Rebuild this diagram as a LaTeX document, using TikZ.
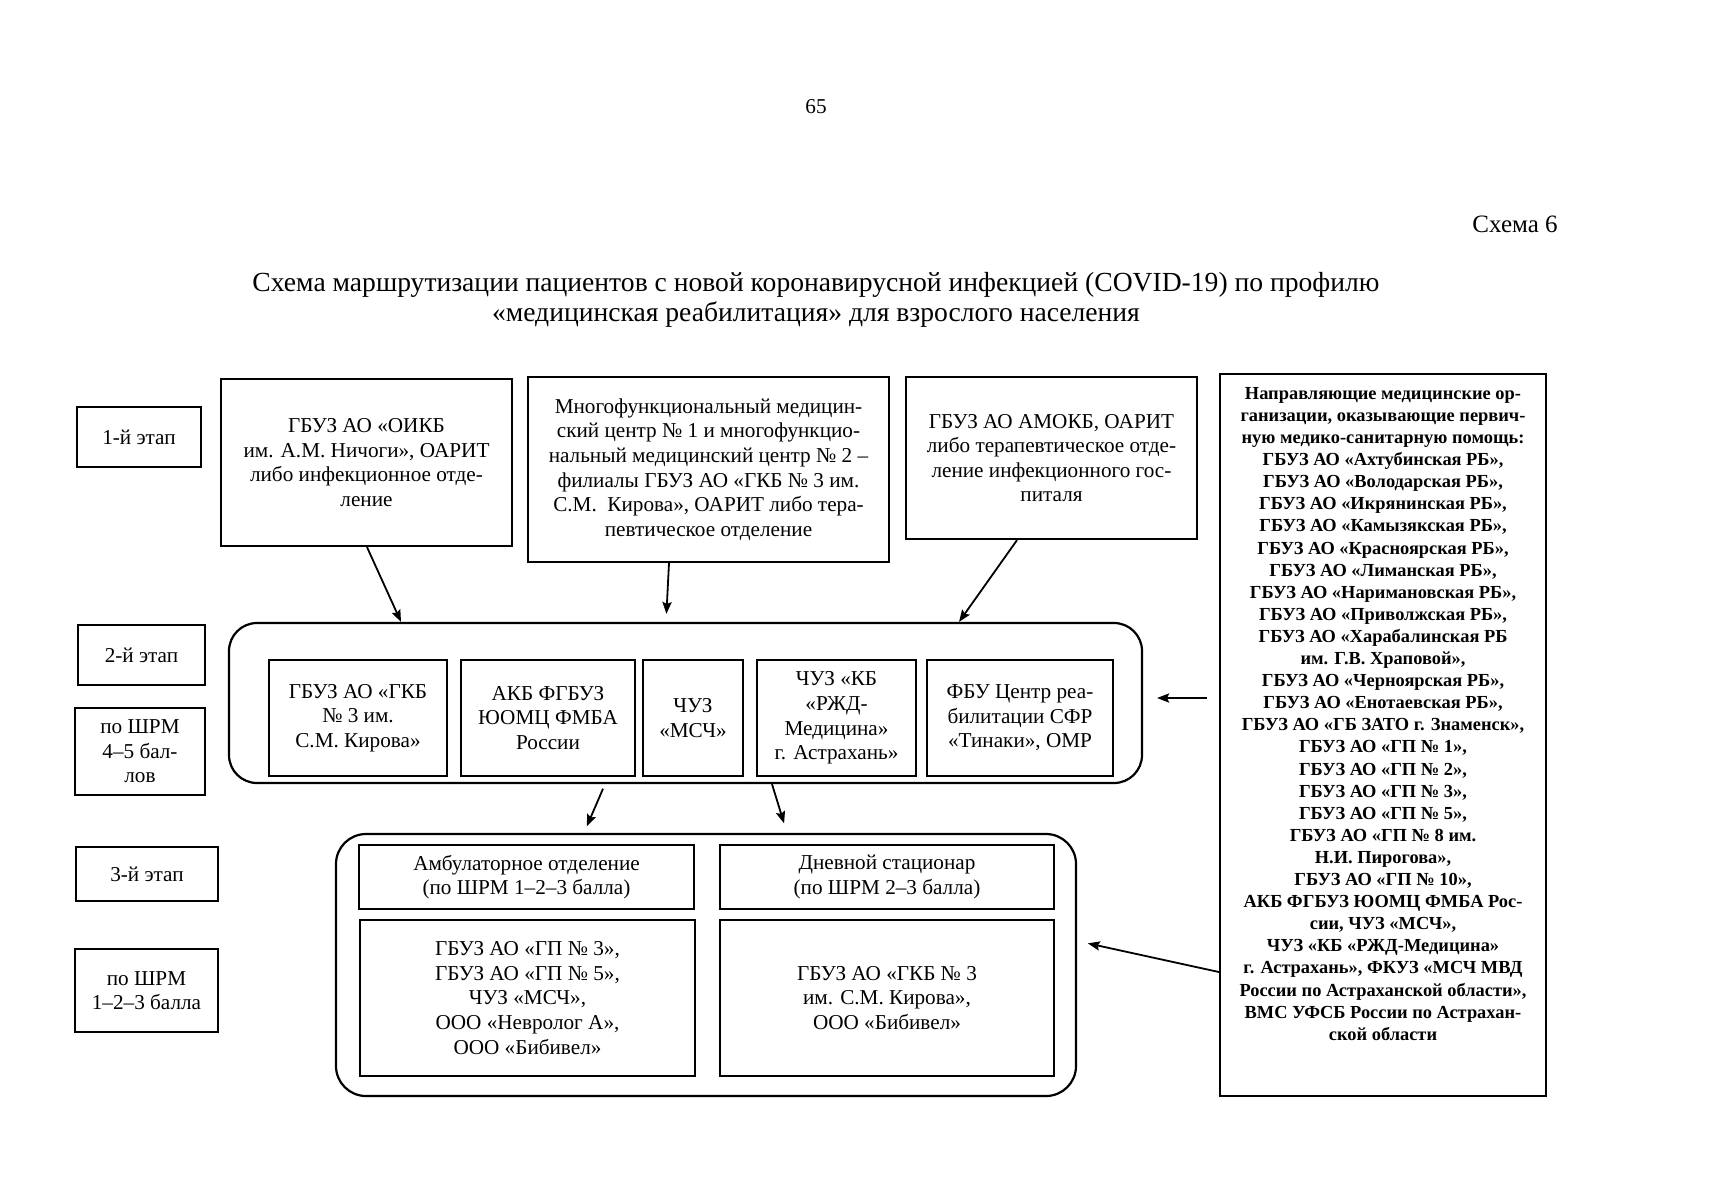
\documentclass[tikz,border=0pt]{standalone}
\usepackage{fontspec}
\setmainfont{Liberation Serif}
\usetikzlibrary{arrows.meta}
\begin{document}
\begin{tikzpicture}[x=0.5pt,y=-0.5pt,>={Stealth[length=6pt,width=4.6pt,inset=1pt]},
  every node/.style={font=\fontsize{10.6}{12.3}\selectfont,align=center,inner sep=0pt},
  sz/.style 2 args={minimum width=#1*0.5pt,minimum height=#2*0.5pt},
  box/.style={draw,line width=1.1pt},
  arr/.style={->,line width=0.9pt}]
\useasboundingbox (0,0) rectangle (1722,1200);
\node (pnum) at (816,107) {65};
\node[font=\fontsize{12.5}{14}\selectfont] (schema) at (1515,224) {Схема 6};
\node[font=\fontsize{13.8}{15}\selectfont] (title) at (816,300) {Схема маршрутизации пациентов с новой коронавирусной инфекцией (COVID-19) по профилю\\«медицинская реабилитация» для взрослого населения};

\node[box,sz={124}{60}] (st1) at (139,437) {1-й этап};
\node[box,sz={127}{60}] (st2) at (141.5,655) {2-й этап};
\node[box,sz={130}{87}] (shrm2) at (140,751.5) {по ШРМ\\4–5 бал-\\лов};
\node[box,sz={142}{54}] (st3) at (147,874) {3-й этап};
\node[box,sz={143}{83}] (shrm3) at (146.5,990.5) {по ШРМ\\1–2–3 балла};

\node[box,sz={291}{167}] (oikb) at (366.5,462.5) {ГБУЗ АО «ОИКБ\\им. А.М. Ничоги», ОАРИТ\\либо инфекционное отде-\\ление};
\node[box,sz={361}{185}] (mfc) at (708.5,469.5) {Многофункциональный медицин-\\ский центр № 1 и многофункцио-\\нальный медицинский центр № 2 –\\филиалы ГБУЗ АО «ГКБ № 3 им.\\С.М.~ Кирова», ОАРИТ либо тера-\\певтическое отделение};
\node[box,sz={291}{162}] (amokb) at (1051.5,458) {ГБУЗ АО АМОКБ, ОАРИТ\\либо терапевтическое отде-\\ление инфекционного гос-\\питаля};

\node[box,sz={326}{722}] (napr) at (1383,735) {};
\node[anchor=north,font=\fontsize{9.2}{11.05}\selectfont\bfseries] (naprtxt) at ([yshift=-7pt]napr.north) {Направляющие медицинские ор-\\ганизации, оказывающие первич-\\ную медико-санитарную помощь:\\ГБУЗ АО «Ахтубинская РБ»,\\ГБУЗ АО «Володарская РБ»,\\ГБУЗ АО «Икрянинская РБ»,\\ГБУЗ АО «Камызякская РБ»,\\ГБУЗ АО «Красноярская РБ»,\\ГБУЗ АО «Лиманская РБ»,\\ГБУЗ АО «Наримановская РБ»,\\ГБУЗ АО «Приволжская РБ»,\\ГБУЗ АО «Харабалинская РБ\\им. Г.В. Храповой»,\\ГБУЗ АО «Черноярская РБ»,\\ГБУЗ АО «Енотаевская РБ»,\\ГБУЗ АО «ГБ ЗАТО г. Знаменск»,\\ГБУЗ АО «ГП № 1»,\\ГБУЗ АО «ГП № 2»,\\ГБУЗ АО «ГП № 3»,\\ГБУЗ АО «ГП № 5»,\\ГБУЗ АО «ГП № 8 им.\\Н.И. Пирогова»,\\ГБУЗ АО «ГП № 10»,\\АКБ ФГБУЗ ЮОМЦ ФМБА Рос-\\сии, ЧУЗ «МСЧ»,\\ЧУЗ «КБ «РЖД-Медицина»\\г. Астрахань», ФКУЗ «МСЧ МВД\\России по Астраханской области»,\\ВМС УФСБ России по Астрахан-\\ской области};

\node[box,rounded corners=14pt,sz={913}{160}] (etap2) at (685.5,703) {};
\node[box,sz={178}{116}] (gkb) at (358,718) {ГБУЗ АО «ГКБ\\№ 3 им.\\С.М. Кирова»};
\node[box,sz={174}{116}] (akb) at (548,718) {АКБ ФГБУЗ\\ЮОМЦ ФМБА\\России};
\node[box,sz={100}{116}] (msch) at (693,718) {ЧУЗ\\«МСЧ»};
\node[box,sz={159}{116}] (rzd) at (836.5,718) {ЧУЗ «КБ\\«РЖД-\\Медицина»\\г. Астрахань»};
\node[box,sz={186}{116}] (fbu) at (1020,718) {ФБУ Центр реа-\\билитации СФР\\«Тинаки», ОМР};

\node[box,rounded corners=15pt,sz={740}{262}] (etap3) at (706,965) {};
\node[box,sz={335}{64}] (amb) at (526.5,877) {Амбулаторное отделение\\(по ШРМ 1–2–3 балла)};
\node[box,sz={334}{64}] (dnev) at (887,877) {Дневной стационар\\(по ШРМ 2–3 балла)};
\node[box,sz={335}{156}] (ambmo) at (527.5,998) {ГБУЗ АО «ГП № 3»,\\ГБУЗ АО «ГП № 5»,\\ЧУЗ «МСЧ»,\\ООО «Невролог А»,\\ООО «Бибивел»};
\node[box,sz={334}{156}] (dnevmo) at (887,998) {ГБУЗ АО «ГКБ № 3\\им. С.М. Кирова»,\\ООО «Бибивел»};

\draw[arr] (367,0 |- oikb.south) -- (401,0 |- etap2.north);
\draw[arr,shorten >=4pt] (669,0 |- mfc.south) -- (666,0 |- etap2.north);
\draw[arr] (1017,0 |- amokb.south) -- (959,0 |- etap2.north);
\draw[arr,shorten <=2.5pt,shorten >=3.5pt] (605,0 |- etap2.south) -- (584,0 |- etap3.north);
\draw[arr,shorten >=5pt] (772,0 |- etap2.south) -- (787,0 |- etap3.north);
\draw[arr,shorten <=6pt,shorten >=7pt] (napr.west |- 0,698) -- (etap2.east |- 0,698);
\draw[arr,shorten >=5.5pt] (napr.west |- 0,972) -- (etap3.east |- 0,941);
\end{tikzpicture}
\end{document}
